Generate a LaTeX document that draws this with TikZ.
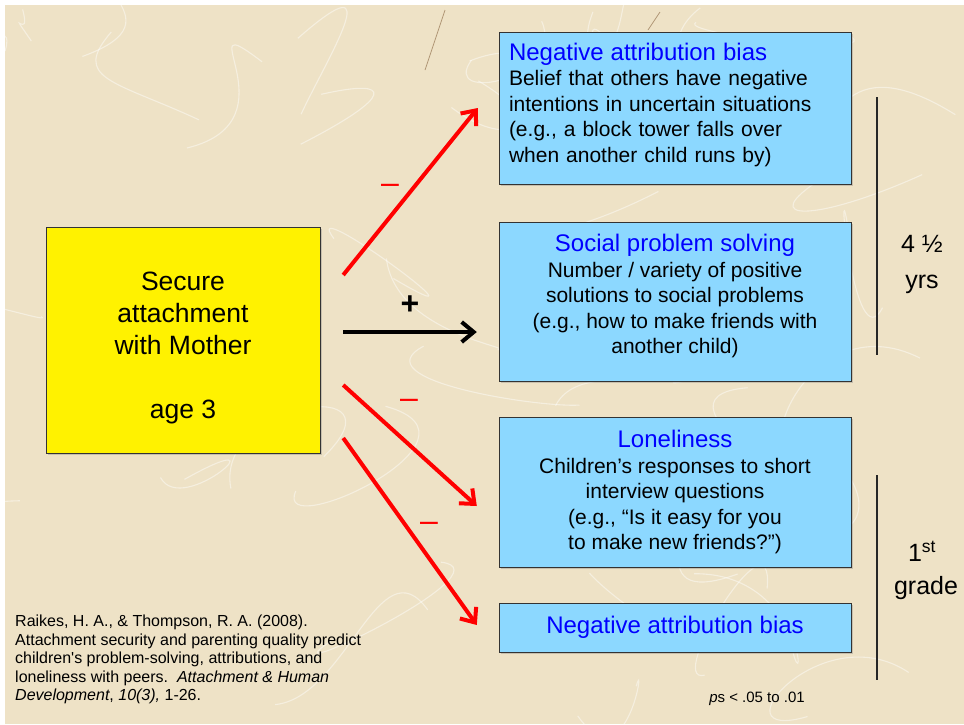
\documentclass[tikz,border=0pt]{standalone}
\usepackage{fontspec}
\setmainfont{Liberation Sans}
\usetikzlibrary{arrows.meta,shadows}
\definecolor{paper}{RGB}{238,226,198}
\definecolor{boxblue}{RGB}{140,216,255}
\definecolor{headblue}{RGB}{0,0,255}
\newcommand{\hd}[1]{{\color{headblue}\fontsize{24}{27}\selectfont #1}}
\begin{document}
\begin{tikzpicture}[x=1pt,y=-1pt,
  ybox/.style={draw=black!80,fill=yellow,minimum width=274,minimum height=226,inner sep=0,align=center,font=\fontsize{26.5}{32}\selectfont,drop shadow={shadow xshift=2pt,shadow yshift=-2pt,opacity=0.35}},
  bbox/.style={draw=black!80,fill=boxblue,minimum width=352,inner sep=0,align=center,font=\fontsize{21}{25.5}\selectfont,drop shadow={shadow xshift=2pt,shadow yshift=-2pt,opacity=0.35}},
  negarrow/.style={red,line width=4,-{Straight Barb[length=12pt,width=20pt]}},
  posarrow/.style={black,line width=4,-{Straight Barb[length=12pt,width=20pt]}},
  minus/.style={red,inner sep=0,anchor=base,font=\fontsize{32}{32}\selectfont},
  fibre/.style={white,opacity=0.45,line width=1.1},
  age/.style={align=center,inner sep=0,font=\fontsize{25}{36}\selectfont}]
\useasboundingbox (0,0) rectangle (964,724);
\fill[white] (0,0) rectangle (964,724);
\fill[paper] (5,5) rectangle (964,724);
\begin{scope}
\clip (5,5) rectangle (964,724);
\pgfmathsetseed{11}
\foreach \i in {1,...,45}{
  \pgfmathsetmacro\xa{5+959*rnd}
  \pgfmathsetmacro\ya{5+719*rnd}
  \draw[fibre] (\xa,\ya) .. controls +(120*rand,90*rand) and +(120*rand,90*rand) .. +(160*rand,120*rand);
}
\draw[brown!60!black,opacity=0.5,line width=0.8] (445,10) -- (425,70);
\draw[brown!60!black,opacity=0.5,line width=0.8] (660,12) -- (648,30);
\end{scope}
\node[ybox] (secure) at (183,340) {\rule{0pt}{35pt}Secure\\attachment\\with Mother\\[32pt]age 3};
\node[bbox,minimum height=152,text width=332,align=left] (bias1) at (675,108) {\hd{Negative attribution bias}\\Belief that others have negative\\intentions in uncertain situations\\(e.g., a block tower falls over\\when another child runs by)\rule[-10.5pt]{0pt}{1pt}};
\node[bbox,minimum height=159] (social) at (675,301.5) {\hd{Social problem solving}\\Number / variety of positive\\solutions to social problems\\(e.g., how to make friends with\\another child)\rule[-14.5pt]{0pt}{1pt}};
\node[bbox,minimum height=150] (lonely) at (675,492) {\hd{Loneliness}\\Children’s responses to short\\interview questions\\(e.g., “Is it easy for you\\to make new friends?”)};
\node[bbox,minimum height=49] (bias2) at (675,627.5) {\hd{Negative attribution bias}};
\draw[negarrow] ([shift={(23,-65)}]secure.east) -- ([shift={(-21,0)}]bias1.west);
\draw[posarrow] ([shift={(23,-8)}]secure.east) -- ([shift={(-22,30.5)}]social.west);
\draw[negarrow] ([shift={(23,45)}]secure.east) -- ([shift={(-22,14)}]lonely.west);
\draw[negarrow] ([shift={(23,98)}]secure.east) -- ([shift={(-22,-2.5)}]bias2.west);
\node[minus] (m1) at (390,193) {–};
\node[minus] (m2) at (409,408) {–};
\node[minus] (m3) at (429,531) {–};
\node[font=\fontsize{32}{32}\selectfont\bfseries,inner sep=0] (plus) at (410,305) {+};
\draw[black!85,line width=1.3] (877,97) -- (877,355);
\draw[black!85,line width=1.3] (877,475) -- (877,680);
\node[age] (early) at (922,264) {4 ½\\yrs};
\node[age,font=\fontsize{25}{33}\selectfont] (grade) at (926,570) {1\textsuperscript{st}\hspace*{8pt}\\grade};
\node[anchor=north west,inner sep=0,align=left,font=\fontsize{16}{18.5}\selectfont] (ref) at (15,615) {Raikes, H. A., \& Thompson, R. A. (2008).\\Attachment security and parenting quality predict\\children\textquotesingle s problem-solving, attributions, and\\loneliness with peers.\ \ \textit{Attachment \& Human}\\\textit{Development}, \textit{10(3),} 1-26.};
\node[inner sep=0,font=\fontsize{15}{18}\selectfont] (sig) at (757,699) {\textit{p}s < .05 to .01};
\end{tikzpicture}
\end{document}
